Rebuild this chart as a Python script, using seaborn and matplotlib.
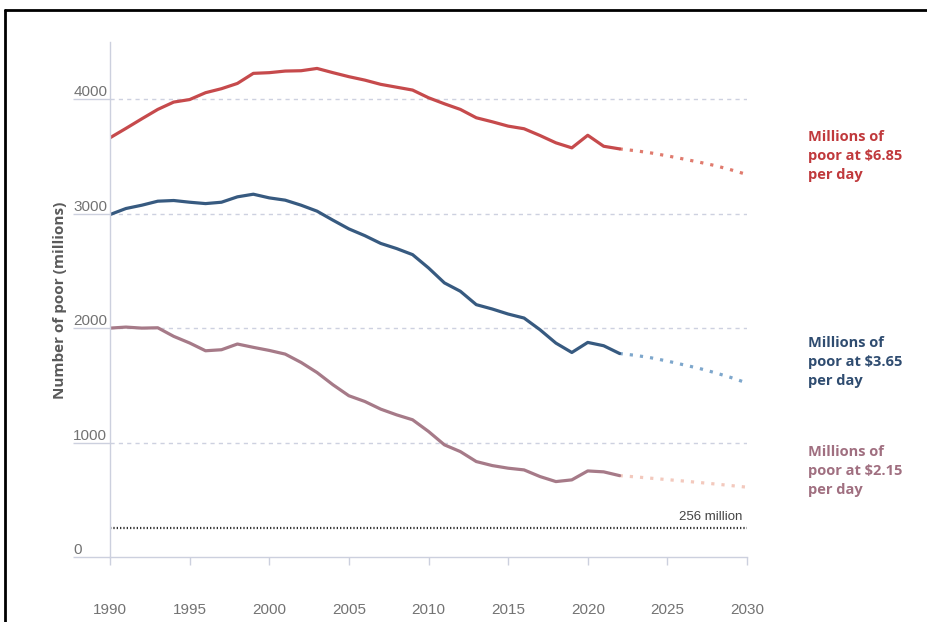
import matplotlib
matplotlib.use("Agg")
import matplotlib.pyplot as plt
import numpy as np
import pandas as pd
import seaborn as sns
from matplotlib.lines import Line2D

# observed series, 1990-2022 (millions of poor)
years = list(range(1990, 2023))
poor_685 = [3663, 3745, 3829, 3911, 3975, 3997, 4057, 4092, 4138, 4226, 4232,
            4246, 4249, 4269, 4232, 4197, 4167, 4130, 4105, 4080, 4013, 3960,
            3911, 3838, 3803, 3765, 3742, 3683, 3619, 3575, 3685, 3589, 3566]
poor_365 = [2992, 3045, 3074, 3109, 3115, 3100, 3088, 3100, 3147, 3170, 3138,
            3118, 3074, 3022, 2943, 2867, 2808, 2740, 2695, 2642, 2526, 2395,
            2322, 2205, 2167, 2123, 2088, 1986, 1869, 1787, 1875, 1846, 1778]
poor_215 = [2000, 2009, 2000, 2003, 1928, 1870, 1802, 1811, 1861, 1832, 1805,
            1773, 1700, 1612, 1505, 1409, 1359, 1292, 1242, 1199, 1097, 980,
            921, 834, 799, 776, 761, 703, 659, 674, 752, 744, 711]

# projections, 2022-2030
proj_years = list(range(2022, 2031))
proj_685 = [3566, 3550, 3530, 3505, 3478, 3450, 3420, 3383, 3342]
proj_365 = [1778, 1762, 1740, 1712, 1680, 1648, 1610, 1568, 1520]
proj_215 = [711, 700, 688, 676, 664, 651, 638, 624, 610]

target = 256
series_names = ["$6.85", "$3.65", "$2.15"]
line_colors = ["#c64a4c", "#375a80", "#a67a88"]
proj_colors = ["#e07b6e", "#7ea7cc", "#f3c9bd"]
label_colors = ["#c0393c", "#2f4c70", "#a06f80"]
label_values = [3500, 1700, 750]

obs = pd.DataFrame({
    "year": years * 3,
    "poor": poor_685 + poor_365 + poor_215,
    "line": np.repeat(series_names, len(years)),
})
proj = pd.DataFrame({
    "year": proj_years * 3,
    "poor": proj_685 + proj_365 + proj_215,
    "line": np.repeat(series_names, len(proj_years)),
})

sns.set_style("white")
plt.rcParams["font.family"] = ["Open Sans", "DejaVu Sans"]
tick_font = ["Liberation Sans", "DejaVu Sans"]

fig = plt.figure(figsize=(9.28, 6.22), dpi=100)
ax = fig.add_axes([110 / 928, 65 / 622, 637 / 928, 515 / 622])

sns.lineplot(data=proj, x="year", y="poor", hue="line", hue_order=series_names,
             palette=proj_colors, linestyle=(0, (1, 2.2)), linewidth=2.3,
             legend=False, ax=ax)
sns.lineplot(data=obs, x="year", y="poor", hue="line", hue_order=series_names,
             palette=line_colors, linewidth=2.3, legend=False, ax=ax)
ax.axhline(target, color="#333333", linestyle=(0, (0.6, 0.9)), linewidth=1.6)
ax.text(2029.7, target + 45, f"{target} million", ha="right", va="bottom",
        fontsize=9.5, color="#444444", family=tick_font)

ax.set_xlim(1990, 2030)
ax.set_ylim(0, 4500)
ax.set_xticks(np.arange(1990, 2031, 5))
ax.set_yticks([0, 1000, 2000, 3000, 4000])
for v in [1000, 2000, 3000, 4000]:
    ax.axhline(v, color="#cdd1e0", linestyle=(0, (3, 3)), linewidth=1, zorder=0)

ax.tick_params(axis="x", bottom=True, length=6, width=1, color="#ccd0de", pad=27,
               labelsize=11, labelcolor="#737373")
ax.tick_params(axis="y", left=True, length=26.5, width=1, color="#ccd0de", pad=0,
               labelsize=11, labelcolor="#737373")
for lab in ax.get_yticklabels():
    lab.set_horizontalalignment("left")
    lab.set_verticalalignment("bottom")
for lab in ax.get_xticklabels() + ax.get_yticklabels():
    lab.set_family(tick_font)

for side in ["top", "right"]:
    ax.spines[side].set_visible(False)
for side in ["left", "bottom"]:
    ax.spines[side].set_color("#ccd0de")
    ax.spines[side].set_linewidth(1)

ax.set_xlabel("")
ax.set_ylabel("Number of poor (millions)", fontsize=11, fontweight="bold",
              color="#5a5a5a")
ax.yaxis.set_label_coords(-43 / 637, (557 - 300) / 515)

for name, col, val in zip(series_names, label_colors, label_values):
    ax.text(1.095, val, "Millions of\npoor at \\" + name + "\nper day",
            transform=ax.get_yaxis_transform(), ha="left", va="center",
            fontsize=10.5, fontweight="bold", color=col, linespacing=1.45)

# frame around the picture
fig.add_artist(Line2D([5 / 928, 5 / 928], [0, 1 - 10 / 622], color="black",
                      linewidth=2, transform=fig.transFigure))
fig.add_artist(Line2D([5 / 928, 1], [1 - 10 / 622, 1 - 10 / 622], color="black",
                      linewidth=2, transform=fig.transFigure))

fig.savefig("out.png", dpi=100)
